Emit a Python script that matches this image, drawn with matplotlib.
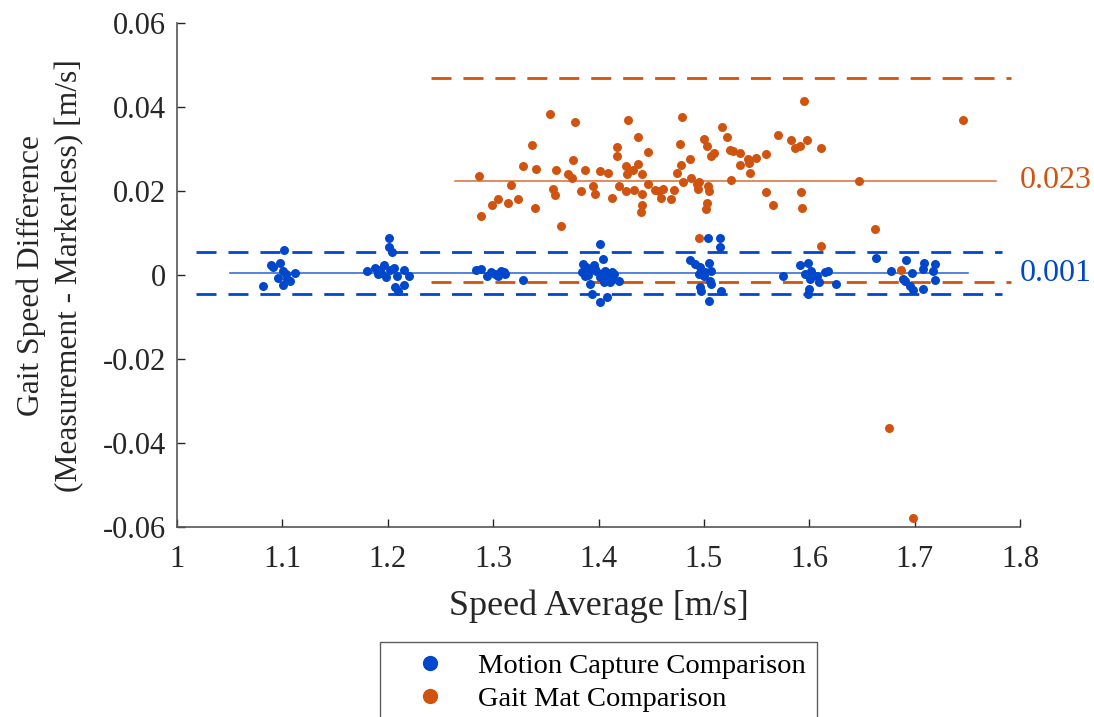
import numpy as np
import matplotlib
matplotlib.use("Agg")
import matplotlib.pyplot as plt
from matplotlib.lines import Line2D

# --- data ---
# motion capture comparison (blue)
mocap_speed = [1.082, 1.102, 1.089, 1.091, 1.098, 1.101, 1.096, 1.104, 1.107, 1.101, 1.112, 1.103,
               1.201, 1.201, 1.204, 1.180, 1.188, 1.191, 1.196, 1.194, 1.198, 1.202, 1.206, 1.209,
               1.215, 1.220, 1.215, 1.207, 1.210, 1.193,
               1.288, 1.294, 1.302, 1.307, 1.311, 1.305, 1.328, 1.284, 1.298, 1.310,
               1.401, 1.404, 1.385, 1.384, 1.387, 1.392, 1.396, 1.398, 1.406, 1.401, 1.409, 1.413,
               1.414, 1.419, 1.405, 1.394, 1.401, 1.408, 1.390, 1.411, 1.390, 1.397, 1.404, 1.388, 1.415,
               1.504, 1.515, 1.515, 1.487, 1.492, 1.496, 1.505, 1.507, 1.501, 1.495, 1.506, 1.507,
               1.496, 1.497, 1.516, 1.505, 1.500,
               1.575, 1.591, 1.599, 1.596, 1.602, 1.607, 1.601, 1.609, 1.600, 1.599, 1.615, 1.618,
               1.625, 1.663,
               1.678, 1.692, 1.697, 1.689, 1.691, 1.696, 1.698, 1.708, 1.709, 1.708, 1.719, 1.717, 1.719]
mocap_diff = [-0.0027, 0.0061, 0.0025, 0.0020, 0.0030, 0.0011, -0.0007, -0.0009, -0.0013, -0.0023, 0.0004, 0.0003,
              0.0088, 0.0066, 0.0054, 0.0009, 0.0017, 0.0003, 0.0025, 0.0004, -0.0005, 0.0012, 0.0017, -0.0001,
              0.0012, -0.0001, -0.0023, -0.0029, -0.0038, 0.0012,
              0.0015, -0.0001, 0.0003, 0.0011, 0.0003, -0.0001, -0.0011, 0.0012, 0.0008, 0.0008,
              0.0074, 0.0038, 0.0027, 0.0007, -0.0001, -0.0021, 0.0023, 0.0011, 0.0011, -0.0005, -0.0001, 0.0007,
              -0.0009, -0.0015, -0.0017, -0.0045, -0.0065, -0.0053, 0.0011, -0.0017, 0.0000, 0.0015, 0.0004, 0.0020, 0.0003,
              0.0088, 0.0088, 0.0068, 0.0036, 0.0027, 0.0019, 0.0030, 0.0011, 0.0007, 0.0003, -0.0013, -0.0021,
              -0.0029, -0.0038, -0.0038, -0.0062, -0.0001,
              -0.0001, 0.0023, 0.0028, 0.0003, 0.0011, -0.0001, -0.0009, -0.0017, -0.0033, -0.0045, 0.0007, 0.0009,
              -0.0021, 0.0042,
              0.0011, 0.0036, 0.0005, -0.0009, -0.0015, -0.0027, -0.0035, -0.0033, 0.0030, 0.0015, 0.0027, 0.0011, -0.0011]

# gait mat comparison (orange)
mat_speed = [1.287, 1.288, 1.299, 1.305, 1.314, 1.317, 1.324, 1.328, 1.337, 1.340, 1.341, 1.354, 1.357, 1.359,
             1.360, 1.364, 1.371, 1.375, 1.376, 1.378, 1.383, 1.387, 1.395, 1.397, 1.401, 1.409, 1.413, 1.418,
             1.418, 1.419, 1.426, 1.426, 1.427, 1.428, 1.433, 1.434, 1.437, 1.437, 1.441, 1.441, 1.441, 1.440,
             1.447, 1.447, 1.454, 1.457, 1.459, 1.461, 1.469, 1.472, 1.474, 1.477, 1.478, 1.479, 1.480, 1.487,
             1.488, 1.493, 1.495, 1.494, 1.500, 1.503, 1.504, 1.505, 1.503, 1.502, 1.507, 1.510, 1.517, 1.522,
             1.525, 1.528, 1.526, 1.534, 1.534, 1.542, 1.543, 1.544, 1.549, 1.559, 1.559, 1.566, 1.570, 1.583,
             1.586, 1.591, 1.592, 1.593, 1.595, 1.598, 1.611, 1.611, 1.647, 1.662, 1.676, 1.687, 1.698, 1.746,
             1.495]
mat_diff = [0.0237, 0.0141, 0.0167, 0.0181, 0.0172, 0.0214, 0.0182, 0.0260, 0.0310, 0.0161, 0.0253, 0.0383, 0.0205, 0.0190,
            0.0251, 0.0118, 0.0240, 0.0232, 0.0274, 0.0365, 0.0200, 0.0251, 0.0212, 0.0194, 0.0249, 0.0243, 0.0183, 0.0305,
            0.0285, 0.0212, 0.0259, 0.0201, 0.0240, 0.0369, 0.0251, 0.0204, 0.0330, 0.0265, 0.0240, 0.0194, 0.0166, 0.0150,
            0.0293, 0.0216, 0.0204, 0.0201, 0.0183, 0.0205, 0.0182, 0.0203, 0.0244, 0.0312, 0.0263, 0.0376, 0.0223, 0.0277,
            0.0231, 0.0217, 0.0222, 0.0205, 0.0325, 0.0308, 0.0212, 0.0201, 0.0172, 0.0158, 0.0285, 0.0291, 0.0354, 0.0328,
            0.0298, 0.0296, 0.0226, 0.0292, 0.0262, 0.0277, 0.0266, 0.0243, 0.0280, 0.0289, 0.0197, 0.0166, 0.0333, 0.0321,
            0.0304, 0.0307, 0.0198, 0.0159, 0.0415, 0.0323, 0.0304, 0.0069, 0.0225, 0.0111, -0.0365, 0.0012, -0.0578, 0.0369,
            0.0088]

# mean / limits of agreement lines
mocap_mean, mocap_upper, mocap_lower = 0.0004, 0.0056, -0.0046
mat_mean, mat_upper, mat_lower = 0.0225, 0.0469, -0.0016
mocap_mean_label = "0.001"
mat_mean_label = "0.023"
mocap_mean_span = [1.050, 1.751]
mocap_loa_span = [1.018, 1.783]
mat_mean_span = [1.264, 1.777]
mat_loa_span = [1.241, 1.791]

xticks = [1, 1.1, 1.2, 1.3, 1.4, 1.5, 1.6, 1.7, 1.8]
yticks = [-0.06, -0.04, -0.02, 0, 0.02, 0.04, 0.06]
ytick_labels = ["-0.06", "-0.04", "-0.02", "0", "0.02", "0.04", "0.06"]
legend_labels = ["Motion Capture Comparison", "Gait Mat Comparison"]

BLUE = "#0047CC"
ORANGE = "#D0530F"
TXT = "#262626"

plt.rcParams["font.family"] = ["Liberation Serif", "DejaVu Serif"]
plt.rcParams["lines.scale_dashes"] = False

fig = plt.figure(figsize=(10.94, 7.17), dpi=100)
ax = fig.add_axes([0.1618, 0.265, 0.9324 - 0.1618, 0.9675 - 0.265])

ax.scatter(mocap_speed, mocap_diff, s=42, color=BLUE, linewidths=0, zorder=3)
ax.scatter(mat_speed, mat_diff, s=42, color=ORANGE, linewidths=0, zorder=3)

dash = (0, (14.4, 8.6))
ax.plot(mocap_loa_span, [mocap_upper] * 2, color=BLUE, lw=2.0, ls=dash, zorder=2)
ax.plot(mocap_loa_span, [mocap_lower] * 2, color=BLUE, lw=2.0, ls=dash, zorder=2)
ax.plot(mocap_mean_span, [mocap_mean] * 2, color=BLUE, lw=1.1, alpha=0.85, zorder=2)
ax.plot(mat_loa_span, [mat_upper] * 2, color=ORANGE, lw=2.0, ls=dash, zorder=2)
ax.plot(mat_loa_span, [mat_lower] * 2, color=ORANGE, lw=2.0, ls=dash, zorder=2)
ax.plot(mat_mean_span, [mat_mean] * 2, color=ORANGE, lw=1.1, alpha=0.85, zorder=2)

ax.text(1.8, mat_mean, mat_mean_label, color=ORANGE, fontsize=23, va="center", ha="left",
        clip_on=False)
ax.text(1.8, mocap_mean, mocap_mean_label, color=BLUE, fontsize=23, va="center", ha="left",
        clip_on=False)

ax.set_xlim(1, 1.8)
ax.set_ylim(-0.06, 0.06)
ax.set_xticks(xticks)
ax.set_xticklabels([f"{t:g}" for t in xticks])
ax.set_yticks(yticks)
ax.set_yticklabels(ytick_labels)
ax.tick_params(direction="in", length=6, width=1, colors=TXT, labelsize=22)
ax.tick_params(axis="x", pad=13)
ax.tick_params(axis="y", pad=8)
for side in ["top", "right"]:
    ax.spines[side].set_visible(False)
for side in ["left", "bottom"]:
    ax.spines[side].set_color("#555555")
    ax.spines[side].set_linewidth(1.2)

ax.set_xlabel("Speed Average [m/s]", fontsize=26, color=TXT, labelpad=11)
ax.set_ylabel("Gait Speed Difference\n(Measurement - Markerless) [m/s]", fontsize=22.7, color=TXT,
              labelpad=13, linespacing=1.4)

handles = [Line2D([], [], marker="o", ls="", color=BLUE, markersize=11, markeredgewidth=0),
           Line2D([], [], marker="o", ls="", color=ORANGE, markersize=11, markeredgewidth=0)]
leg = fig.legend(handles, legend_labels,
                 loc="upper center", bbox_to_anchor=(0.547, 1 - 642 / 717), fontsize=20.5,
                 frameon=True, fancybox=False, edgecolor="#333333", handletextpad=0.32,
                 borderpad=0.4, labelspacing=0.25, handlelength=2.73, borderaxespad=0)
leg.get_frame().set_linewidth(1.0)

fig.savefig("out.png", dpi=100)
